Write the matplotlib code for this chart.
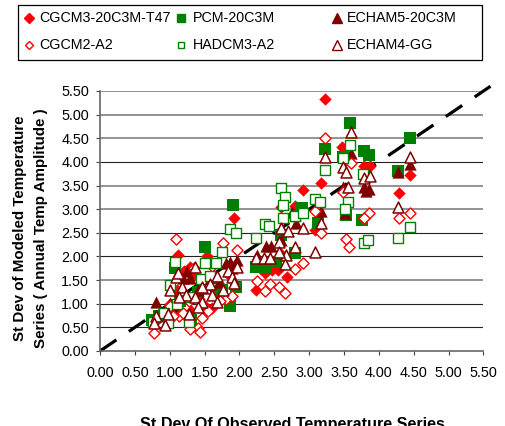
import matplotlib
matplotlib.use('Agg')
import matplotlib.pyplot as plt
from matplotlib.lines import Line2D
from matplotlib.patches import Rectangle

plt.rcParams['font.family'] = ['Liberation Sans', 'DejaVu Sans']

# values (observed, modeled)
cgcm3_x = [3.23, 3.47, 3.17, 2.91, 2.79, 2.60, 3.78, 3.87, 4.45, 4.29, 1.92, 1.12, 2.24, 2.37, 2.68, 2.55, 2.46,
           3.08, 1.60, 1.29, 1.53, 1.00, 1.10, 1.20, 1.35, 1.42, 1.50, 1.66, 1.75, 1.85, 1.95, 2.30, 2.60, 0.85, 1.05, 1.30, 1.45]
cgcm3_y = [5.34, 4.32, 3.55, 3.40, 3.07, 3.05, 3.91, 3.91, 3.72, 3.34, 2.82, 2.03, 1.29, 1.65, 1.56, 1.71, 1.71,
           2.56, 0.91, 1.78, 2.00, 1.00, 1.30, 1.70, 1.60, 1.10, 0.95, 1.25, 1.35, 1.60, 1.85, 1.75, 2.05, 0.70, 0.80, 0.85, 1.45]
pcm_x = [3.59, 3.22, 3.78, 3.86, 4.44, 4.28, 3.49, 3.55, 1.91, 1.51, 2.24, 2.36, 2.80, 2.89, 3.12, 3.76, 3.53, 1.87, 1.95,
         1.07, 0.74, 2.53, 1.15, 1.30, 1.05, 1.60, 1.75, 0.85, 1.40, 2.60]
pcm_y = [4.83, 4.27, 4.23, 4.15, 4.51, 3.80, 4.10, 4.05, 3.09, 2.20, 1.77, 1.78, 2.07, 3.02, 2.70, 2.78, 2.87, 0.96, 1.35,
         1.75, 0.66, 1.89, 1.05, 0.65, 0.85, 1.55, 1.30, 0.75, 1.25, 2.45]
echam5_x = [3.60, 4.28, 4.45, 3.79, 3.86, 3.49, 3.52, 3.17, 2.38, 2.81, 2.25, 1.96, 1.87, 2.45, 0.80, 1.29, 1.19, 1.81,
            1.00, 3.82, 2.60, 2.75, 1.40, 1.55, 1.70, 1.10, 1.25, 1.90]
echam5_y = [4.19, 3.79, 3.95, 3.47, 3.42, 3.47, 2.91, 2.96, 2.22, 2.70, 2.03, 1.92, 1.89, 2.22, 1.04, 1.54, 1.54, 1.86,
            1.01, 3.38, 2.35, 2.95, 1.30, 1.55, 1.45, 0.95, 1.70, 1.75]
cgcm2_x = [1.09, 1.76, 1.96, 2.25, 1.81, 1.90, 1.47, 1.40, 1.29, 0.77, 1.13, 1.43, 1.19, 2.37, 2.44, 2.56, 2.65, 2.80, 2.91,
           3.08, 3.17, 3.53, 3.57, 3.78, 3.86, 4.29, 4.45, 3.23, 3.60, 3.48, 3.79, 1.05, 1.35, 1.60, 1.28, 1.55, 1.72, 1.00]
cgcm2_y = [2.36, 2.29, 2.14, 1.49, 1.10, 1.17, 0.70, 0.49, 0.46, 0.39, 0.73, 0.40, 0.80, 1.27, 1.42, 1.36, 1.23, 1.73, 1.87,
           2.96, 2.50, 2.36, 2.20, 2.81, 2.92, 2.81, 2.92, 4.50, 3.97, 3.37, 2.82, 0.75, 1.75, 1.80, 1.05, 0.85, 1.05, 0.95]
hadcm3_x = [3.59, 3.22, 2.59, 2.66, 2.63, 3.08, 3.16, 3.55, 3.52, 3.77, 2.80, 3.49, 4.28, 4.44, 3.78, 3.85, 2.79, 2.91, 2.63,
            2.36, 2.43, 1.87, 1.95, 2.24, 1.75, 1.51, 1.67, 1.07, 0.92, 1.27, 1.45, 1.58, 1.10, 1.29, 0.76, 0.97, 1.00]
hadcm3_y = [4.36, 3.83, 3.45, 3.26, 3.09, 3.21, 3.15, 3.16, 3.00, 3.74, 2.85, 4.08, 2.39, 2.62, 2.29, 2.35, 2.85, 2.92, 2.81,
            2.68, 2.65, 2.58, 2.50, 2.39, 2.09, 1.86, 1.86, 1.88, 0.80, 0.62, 1.52, 1.59, 0.99, 1.15, 0.62, 0.59, 1.40]
echam4_x = [1.36, 1.09, 1.00, 0.80, 0.97, 0.77, 0.93, 1.27, 1.17, 1.24, 1.14, 1.36, 1.47, 1.40, 1.52, 1.58, 1.68, 1.83, 1.96,
            1.89, 1.92, 1.76, 1.60, 1.68, 3.08, 2.80, 2.67, 2.56, 2.57, 2.60, 2.69, 2.91, 3.17, 2.24, 2.35, 2.44, 2.65,
            4.28, 3.60, 3.23, 3.48, 3.53, 3.79, 3.87, 4.45, 3.56, 1.12, 1.47]
echam4_y = [1.78, 1.56, 1.28, 0.75, 0.78, 0.59, 0.55, 0.78, 1.35, 1.18, 1.15, 1.14, 1.04, 0.94, 1.33, 1.42, 1.59, 1.70, 1.78,
            1.57, 1.44, 1.29, 1.18, 1.04, 2.09, 2.20, 2.03, 2.31, 2.10, 2.60, 2.54, 2.61, 2.70, 1.96, 1.96, 1.96, 1.84,
            3.04, 4.64, 4.11, 3.89, 3.79, 3.66, 3.70, 4.10, 3.47, 1.66, 1.36]
trend_x = [0, 5.6]
trend_y = [0, 5.6]
ticks = [0, 0.5, 1, 1.5, 2, 2.5, 3, 3.5, 4, 4.5, 5, 5.5]

RED = '#ff0000'
GREEN = '#008000'
DARK = '#800000'
# the gridlines in the picture alternate between crisp black and blurred grey
grid_dark = [0.5, 1, 2, 2.5, 4]

fig = plt.figure(figsize=(5.06, 4.26), dpi=100)
ax = fig.add_axes([100 / 506, 75 / 426, 383.5 / 506, 260 / 426])

for t in ticks[1:]:
    if t in grid_dark:
        ax.axhline(t, color='#222222', lw=0.8, zorder=1)
    else:
        ax.axhline(t, color='#808080', lw=1.2, zorder=1)

ax.plot(trend_x, trend_y, color='black', lw=2.3, dashes=(6.2, 4.7), clip_on=False, zorder=2)

# filled series first, open series on top
ax.scatter(cgcm3_x, cgcm3_y, marker='D', s=40, color=RED, linewidths=0, zorder=3)
ax.scatter(pcm_x, pcm_y, marker='s', s=63, color=GREEN, linewidths=0, zorder=4)
ax.scatter(echam5_x, echam5_y, marker='^', s=78, color=DARK, linewidths=0, zorder=5)
ax.scatter(cgcm2_x, cgcm2_y, marker='D', s=32, facecolor='white', edgecolor=RED, linewidths=1.0, zorder=6)
ax.scatter(hadcm3_x, hadcm3_y, marker='s', s=52, facecolor='white', edgecolor=GREEN, linewidths=1.0, zorder=7)
ax.scatter(echam4_x, echam4_y, marker='^', s=62, facecolor='white', edgecolor=DARK, linewidths=1.1, zorder=8)

ax.set_xlim(0, 5.5)
ax.set_ylim(0, 5.5)
ax.set_xticks(ticks)
ax.set_yticks(ticks)
ax.set_xticklabels(['%.2f' % t for t in ticks], fontsize=10.4)
ax.set_yticklabels(['%.2f' % t for t in ticks], fontsize=10.4)
ax.tick_params(length=3, width=0.8, color='#444444')
ax.tick_params(axis='x', pad=8)
ax.tick_params(axis='y', pad=5)
for s in ['top', 'right']:
    ax.spines[s].set_visible(False)
for s in ['left', 'bottom']:
    ax.spines[s].set_color('#666666')
    ax.spines[s].set_linewidth(1.2)

fig.text(292 / 506, 1 - 429 / 426, 'St Dev Of Observed Temperature Series', fontsize=11.6,
         fontweight='bold', ha='center', va='baseline')
fig.text(20 / 506, 1 - 228 / 426, 'St Dev of Modeled Temperature', fontsize=10.9,
         fontweight='bold', ha='center', va='center', rotation=90)
fig.text(41 / 506, 1 - 228 / 426, 'Series ( Annual Temp Amplitude )', fontsize=10.9,
         fontweight='bold', ha='center', va='center', rotation=90)

# legend box has equal columns, so it is laid out by hand in pixels
box = fig.add_axes([0, 0, 1, 1], facecolor='none')
box.set_xlim(0, 506)
box.set_ylim(426, 0)
box.axis('off')
box.add_patch(Rectangle((18.5, 4.5), 464, 55.5, facecolor='white', edgecolor='black', lw=0.9))
legend_rows = [
    (29, 39, 18, 'D', RED, RED, 'CGCM3-20C3M-T47', 5),
    (29, 39, 45, 'D', 'white', RED, 'CGCM2-A2', 4.5),
    (181, 193, 18, 's', GREEN, GREEN, 'PCM-20C3M', 5.3),
    (181, 193, 45, 's', 'white', GREEN, 'HADCM3-A2', 5),
    (337, 347, 18, '^', DARK, DARK, 'ECHAM5-20C3M', 7.2),
    (337, 347, 45, '^', 'white', DARK, 'ECHAM4-GG', 6.5),
]
for mx, tx, y, m, fc, ec, name, ms in legend_rows:
    box.add_line(Line2D([mx], [y], marker=m, ms=ms, mfc=fc, mec=ec, mew=1.0, ls='none'))
    box.text(tx, y, name, fontsize=10.3, va='center', ha='left')

fig.savefig('out.png', dpi=100)
